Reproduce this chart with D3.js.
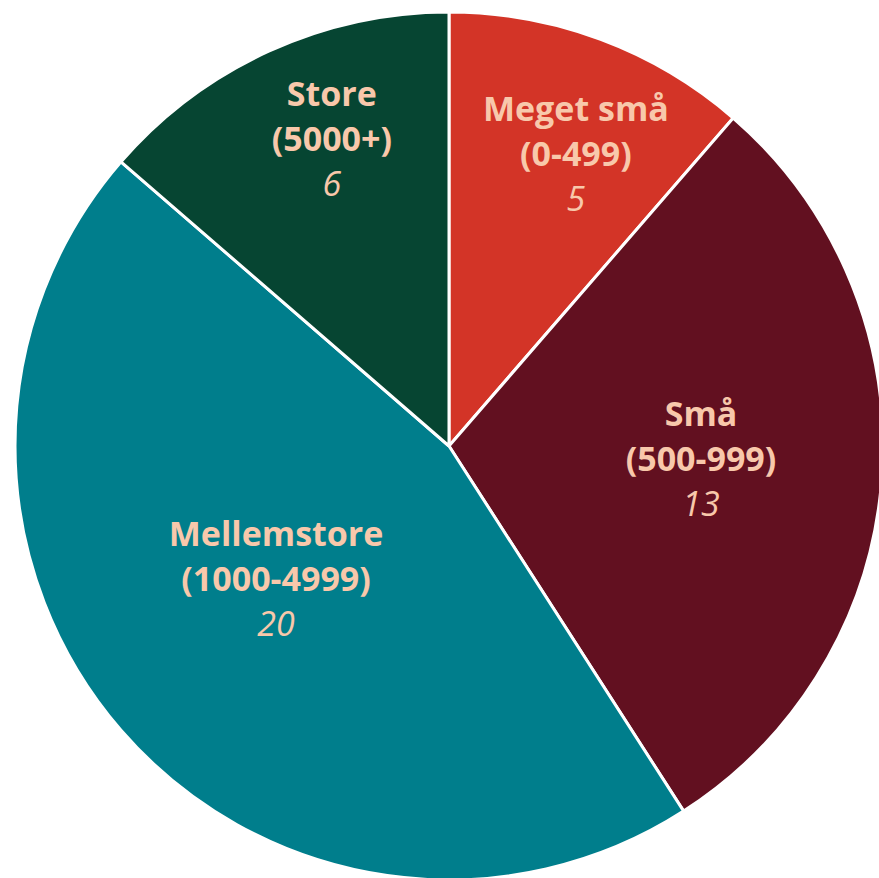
<!DOCTYPE html>
<html><head><meta charset="utf-8">
<script src="https://cdn.jsdelivr.net/npm/d3@7"></script>
<style>html,body{margin:0;padding:0;background:#fff;overflow:hidden}</style>
</head><body><svg id="c" width="879" height="878"></svg>
<script>
const categories = ["Meget små", "Små", "Mellemstore", "Store"];
const ranges = ["(0-499)", "(500-999)", "(1000-4999)", "(5000+)"];
const values = [5, 13, 20, 6];
const colors = ["#d33427", "#621020", "#007e8c", "#064532"];

const svg = d3.select("#c");
const cx = 449, cy = 446, R = 434;
const g = svg.append("g").attr("transform", `translate(${cx},${cy})`);
const data = categories.map((c, i) => ({cat: c, range: ranges[i], value: values[i], color: colors[i]}));
const pie = d3.pie().value(d => d.value).sort(null);
const arcs = pie(data);
const arc = d3.arc().innerRadius(0).outerRadius(R);
g.selectAll("path").data(arcs).join("path")
  .attr("d", arc).attr("fill", d => d.data.color)
  .attr("stroke", "#fff").attr("stroke-width", 3).attr("stroke-linejoin", "round");

// label placement (radius fraction, angle shift in degrees) to match reference best-fit positions
const place = [{r: 0.7316, da: 3.1}, {r: 0.5816, da: -0.9}, {r: 0.504, da: 3.15}, {r: 0.755, da: 3.6}];
const lab = g.selectAll("g.lab").data(arcs).join("g").attr("class", "lab")
  .attr("transform", (d, i) => {
    const a = (d.startAngle + d.endAngle) / 2 + place[i].da * Math.PI / 180;
    const rr = R * place[i].r;
    return `translate(${rr * Math.sin(a)},${-rr * Math.cos(a)})`;
  });
const font = "'Open Sans', 'Noto Sans', sans-serif";
const fs = 34;
lab.append("text").attr("y", -34).attr("text-anchor", "middle")
  .attr("font-family", font).attr("font-weight", 700).attr("font-size", fs)
  .attr("fill", "#f8c8ab").text(d => d.data.cat);
lab.append("text").attr("y", 11).attr("text-anchor", "middle")
  .attr("font-family", font).attr("font-weight", 700).attr("font-size", fs)
  .attr("fill", "#f8c8ab").text(d => d.data.range);
lab.append("text").attr("y", 56).attr("text-anchor", "middle")
  .attr("font-family", font).attr("font-style", "italic").attr("font-size", fs)
  .attr("fill", "#f8c8ab").text(d => d.data.value);
</script></body></html>
